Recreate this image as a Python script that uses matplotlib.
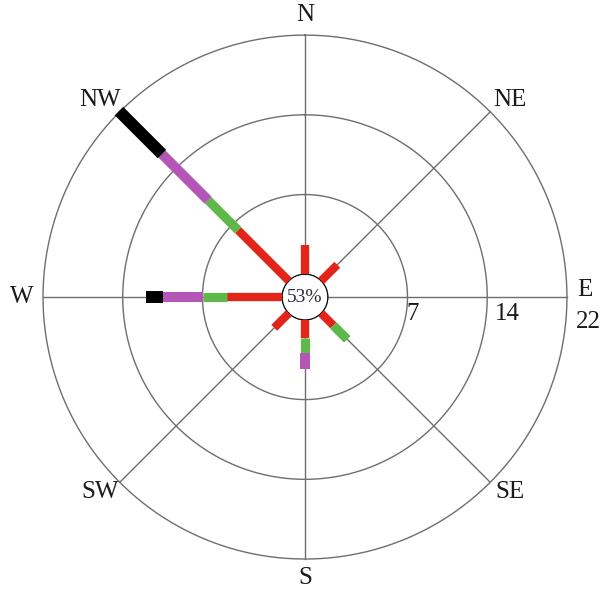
import numpy as np
import matplotlib
matplotlib.use('Agg')
import matplotlib.pyplot as plt

# wind rose data (segment lengths per class, stacked outwards)
directions = ['N', 'NE', 'E', 'SE', 'S', 'SW', 'W', 'NW']
red = [2.7, 2.1, 0, 1.6, 1.7, 1.9, 5.1, 6.6]
green = [0, 0, 0, 1.8, 1.3, 0, 2.2, 3.9]
purple = [0, 0, 0, 0, 1.5, 0, 3.7, 6.0]
black = [0, 0, 0, 0, 0, 0, 1.5, 5.6]
calm_label = '53%'
ring_values = [22 / 3, 44 / 3, 22]
ring_labels = ['7', '14', '22']

plt.rcParams['font.family'] = ['Liberation Serif', 'DejaVu Serif']

fig = plt.figure(figsize=(6.05, 5.92), dpi=100)
ax = fig.add_axes([0.0711, 0.0557, 0.866, 0.885], projection='polar')
ax.set_theta_zero_location('N')
ax.set_theta_direction(-1)
ax.set_ylim(0, 22)
ax.set_rorigin(-2.1)
ax.grid(False)
ax.spines['polar'].set_visible(False)
ax.set_xticks([])
ax.set_yticks([])

grid_col = '#6e6e6e'
t = np.linspace(0, 2 * np.pi, 400)
for rv in ring_values:
    ax.plot(t, np.full_like(t, rv), color=grid_col, lw=1.0, zorder=1,
            clip_on=False)
# calm circle
ax.plot(t, np.zeros_like(t), color=grid_col, lw=1.0, zorder=1)

angles = np.deg2rad(np.arange(0, 360, 45))
for a in angles:
    ax.plot([a, a], [0, 22], color=grid_col, lw=1.0, zorder=1, clip_on=False)

# stacked bars drawn as thick radial segments
classes = [(red, '#e3241b', 6.0), (green, '#5fb84a', 6.6),
           (purple, '#b455b8', 7.2), (black, '#000000', 8.6)]
base = np.zeros(len(directions))
for vals, col, lw in classes:
    vals = np.array(vals, dtype=float)
    for a, b0, v in zip(angles, base, vals):
        if v > 0:
            ax.plot([a, a], [b0, b0 + v], color=col, lw=lw,
                    solid_capstyle='butt', zorder=3, clip_on=False)
    base = base + vals

ax.text(0.5, 0.5, calm_label, transform=ax.transAxes, ha='center',
        va='center', fontsize=14, color='#2a2a3a', zorder=5)

# direction labels
lab_pos = {'N': (0.5, 1.038), 'NE': (0.891, 0.876), 'E': (1.034, 0.513),
           'SE': (0.891, 0.128), 'S': (0.5, -0.036), 'SW': (0.109, 0.128),
           'W': (-0.040, 0.5), 'NW': (0.109, 0.876)}
for d in directions:
    x, y = lab_pos[d]
    ax.text(x, y, d, transform=ax.transAxes, ha='center', va='center',
            fontsize=18, color='#1a1a1a')

# ring labels
ring_pos = [(0.706, 0.468), (0.887, 0.468), (1.040, 0.452)]
for (x, y), lab in zip(ring_pos, ring_labels):
    ax.text(x, y, lab, transform=ax.transAxes, ha='center', va='center',
            fontsize=18, color='#1a1a1a')

fig.savefig('out.png', dpi=100)
